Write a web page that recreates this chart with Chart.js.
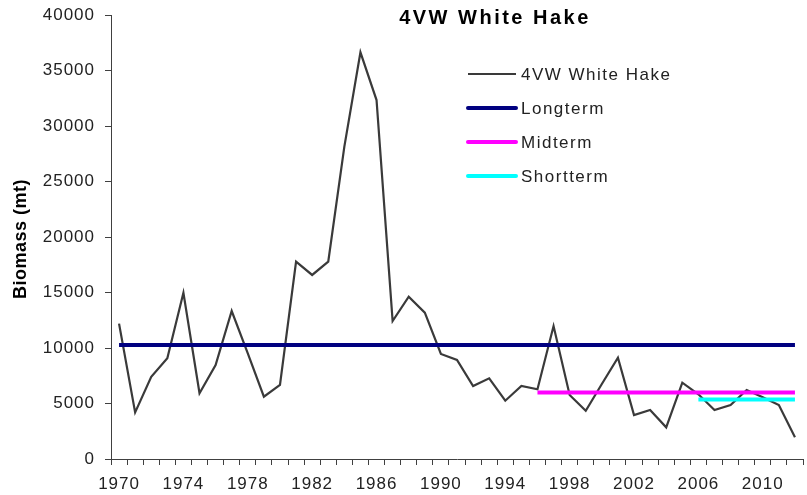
<!DOCTYPE html>
<html>
<head>
<meta charset="utf-8">
<script src="https://cdn.jsdelivr.net/npm/chart.js@4"></script>
<style>
    html, body { margin: 0; padding: 0; background: #fff; }
    #wrap { position: relative; width: 807px; height: 495px; }
</style>
</head>
<body>
<div id="wrap"><canvas id="myChart"></canvas></div>
<script>
// years on the x axis
const years = [];
for (let y = 1970; y <= 2012; y++) years.push(String(y));

// survey biomass (mt)
const biomass = [
    12200, 4200, 7400, 9070, 14980, 5920, 8470, 13330, 9520, 5610,
    6670, 17780, 16580, 17780, 28140, 36640, 32340, 12430, 14620, 13180,
    9460, 8920, 6580, 7270, 5250, 6580, 6280, 11980, 5770, 4350,
    6760, 9130, 3960, 4410, 2850, 6880, 5830, 4410, 4860, 6220,
    5560, 4860, 1950
];

// reference means and the year each one starts
const longtermMean = 10270;
const longtermStart = 1970;
const midtermMean = 5980;
const midtermStart = 1996;
const shorttermMean = 5350;
const shorttermStart = 2006;

const yTicks = [0, 5000, 10000, 15000, 20000, 25000, 30000, 35000, 40000];
const labelEvery = 4;

const chartTitle = '4VW White Hake';
const yTitle = 'Biomass (mt)';

function meanLine(value, start) {
    return years.map(y => (Number(y) >= start ? value : null));
}

const FONT = "'Liberation Sans', Arial, sans-serif";

// draws title, y axis title and the legend inside the plot
const overlay = {
    id: 'overlay',
    beforeDraw(chart) {
        chart.ctx.letterSpacing = '1px';
    },
    afterDraw(chart) {
        const ctx = chart.ctx;
        ctx.save();
        ctx.fillStyle = '#000';

        ctx.letterSpacing = '2.5px';
        ctx.font = 'bold 20px ' + FONT;
        ctx.textAlign = 'center';
        ctx.textBaseline = 'middle';
        ctx.fillText(chartTitle, 495, 18);

        ctx.save();
        ctx.letterSpacing = '0.5px';
        ctx.font = 'bold 18px ' + FONT;
        ctx.translate(21, 239);
        ctx.rotate(-Math.PI / 2);
        ctx.fillText(yTitle, 0, 0);
        ctx.restore();

        ctx.letterSpacing = '1.5px';
        ctx.font = '17px ' + FONT;
        ctx.textAlign = 'left';
        const rows = [74, 108, 142, 176];
        chart.data.datasets.forEach((ds, i) => {
            const y = rows[i];
            ctx.strokeStyle = ds.borderColor;
            ctx.lineWidth = ds.borderWidth;
            ctx.lineCap = i === 0 ? 'butt' : 'round';
            ctx.beginPath();
            ctx.moveTo(468, y);
            ctx.lineTo(516, y);
            ctx.stroke();
            ctx.fillStyle = '#222';
            ctx.fillText(ds.label, 521, y + 1);
        });
        ctx.restore();
    }
};

const ctx = document.getElementById('myChart').getContext('2d');

new Chart(ctx, {
    type: 'line',
    data: {
        labels: years,
        datasets: [
            {
                label: '4VW White Hake',
                data: biomass,
                borderColor: '#3a3a3a',
                borderWidth: 2.2,
                pointRadius: 0,
                tension: 0,
                order: 4
            },
            {
                label: 'Longterm',
                data: meanLine(longtermMean, longtermStart),
                borderColor: '#000080',
                borderWidth: 4,
                pointRadius: 0,
                order: 3
            },
            {
                label: 'Midterm',
                data: meanLine(midtermMean, midtermStart),
                borderColor: '#FF00FF',
                borderWidth: 4,
                pointRadius: 0,
                order: 2
            },
            {
                label: 'Shortterm',
                data: meanLine(shorttermMean, shorttermStart),
                borderColor: '#00FFFF',
                borderWidth: 4,
                pointRadius: 0,
                order: 1
            }
        ]
    },
    options: {
        responsive: true,
        maintainAspectRatio: false,
        animation: false,
        layout: { padding: { top: 15, right: 4, left: 0, bottom: 0 } },
        plugins: {
            legend: { display: false },
            title: { display: false },
            tooltip: { enabled: false }
        },
        scales: {
            x: {
                type: 'category',
                offset: true,
                grid: {
                    offset: true,
                    drawOnChartArea: false,
                    drawTicks: true,
                    tickLength: 6,
                    color: '#404040'
                },
                border: { color: '#404040', width: 1 },
                ticks: {
                    autoSkip: false,
                    maxRotation: 0,
                    minRotation: 0,
                    padding: 9,
                    color: '#222',
                    font: { family: FONT, size: 17 },
                    callback: (v, i) => (i % labelEvery === 0 ? years[i] : '')
                },
                afterFit: (scale) => {
                    scale.height = 36;
                    scale.paddingLeft = 0;
                    scale.paddingRight = 0;
                }
            },
            y: {
                min: 0,
                max: 40000,
                afterBuildTicks: (scale) => {
                    scale.ticks = yTicks.map(v => ({ value: v }));
                },
                grid: {
                    drawOnChartArea: false,
                    drawTicks: true,
                    tickLength: 6,
                    color: '#404040'
                },
                border: { color: '#404040', width: 1 },
                ticks: {
                    padding: 10,
                    color: '#222',
                    font: { family: FONT, size: 17 },
                    callback: (v) => String(v)
                },
                afterFit: (scale) => {
                    scale.width = 111;
                    scale.paddingTop = 0;
                    scale.paddingBottom = 0;
                }
            }
        }
    },
    plugins: [overlay]
});
</script>
</body>
</html>
